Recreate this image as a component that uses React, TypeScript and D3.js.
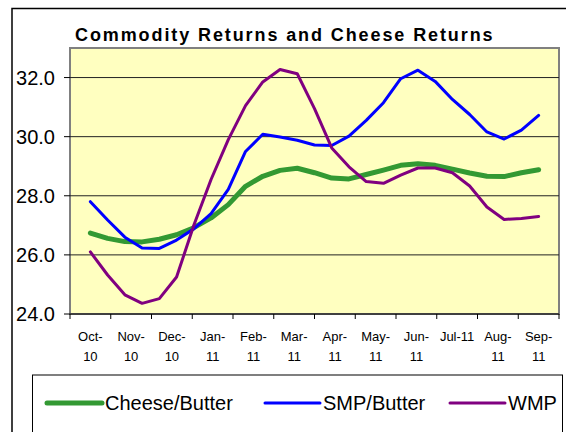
import React, { useEffect, useRef } from "react";
import * as d3 from "d3";

// month categories on the x axis
const months = [
  "Oct-10", "Nov-10", "Dec-10", "Jan-11", "Feb-11", "Mar-11",
  "Apr-11", "May-11", "Jun-11", "Jul-11", "Aug-11", "Sep-11",
];

// roughly bi-weekly readings, mid Oct-10 through mid Sep-11
const cheeseButter = [
  26.74, 26.56, 26.45, 26.44, 26.53, 26.68, 26.92, 27.25, 27.7, 28.32, 28.66,
  28.86, 28.93, 28.78, 28.6, 28.57, 28.72, 28.87, 29.03, 29.08, 29.03, 28.9,
  28.77, 28.66, 28.65, 28.78, 28.88,
];
const smpButter = [
  27.8, 27.18, 26.6, 26.23, 26.22, 26.5, 26.88, 27.4, 28.22, 29.5, 30.08,
  29.99, 29.88, 29.72, 29.7, 30.02, 30.55, 31.15, 31.96, 32.25, 31.87, 31.26,
  30.75, 30.16, 29.92, 30.22, 30.72,
];
const wmp = [
  26.1, 25.32, 24.65, 24.36, 24.52, 25.25, 27.0, 28.55, 29.9, 31.05, 31.85,
  32.27, 32.13, 30.95, 29.62, 28.98, 28.48, 28.42, 28.7, 28.94, 28.94, 28.78,
  28.33, 27.62, 27.2, 27.23, 27.3,
];

const yTicks = [24, 26, 28, 30, 32];

const series = [
  { name: "Cheese/Butter", values: cheeseButter, color: "#339933", width: 5 },
  { name: "SMP/Butter", values: smpButter, color: "#0000ff", width: 3 },
  { name: "WMP", values: wmp, color: "#800080", width: 3 },
];

const App = () => {
  const ref = useRef<SVGSVGElement>(null);

  useEffect(() => {
    const svg = d3.select(ref.current);
    svg.selectAll("*").remove();
    const font = "'Liberation Sans', Arial, sans-serif";

    const left = 70, right = 559, top = 48, bottom = 314;
    const x = d3.scaleLinear().domain([0, months.length]).range([left, right]);
    const y = d3.scaleLinear().domain([24, 33]).range([bottom, top]);

    // outer chart frame (runs off the right / bottom edge)
    svg.append("rect")
      .attr("x", 12).attr("y", 8.5).attr("width", 600).attr("height", 500)
      .attr("fill", "#fff").attr("stroke", "#000").attr("stroke-width", 1.5);

    svg.append("text")
      .attr("x", 75).attr("y", 41)
      .attr("font-family", font).attr("font-weight", "bold")
      .attr("font-size", 18).attr("letter-spacing", 1.9)
      .text("Commodity Returns and Cheese Returns");

    svg.append("rect")
      .attr("x", left).attr("y", top)
      .attr("width", right - left).attr("height", bottom - top)
      .attr("fill", "#ffffc0").attr("stroke", "#808080").attr("stroke-width", 2);

    // gridlines + y labels
    const gy = svg.append("g");
    yTicks.forEach((t) => {
      gy.append("line")
        .attr("x1", left).attr("x2", right)
        .attr("y1", y(t)).attr("y2", y(t))
        .attr("stroke", t === 24 ? "#000" : "#222").attr("stroke-width", 1);
      gy.append("line")
        .attr("x1", left - 6).attr("x2", left)
        .attr("y1", y(t)).attr("y2", y(t))
        .attr("stroke", "#000");
      gy.append("text")
        .attr("x", 55).attr("y", y(t)).attr("dy", "0.35em")
        .attr("text-anchor", "end")
        .attr("font-family", font).attr("font-size", 20)
        .text(t.toFixed(1));
    });

    // x axis: tick at each month boundary, label centred in the month
    const gx = svg.append("g");
    d3.range(months.length + 1).forEach((i) => {
      gx.append("line")
        .attr("x1", x(i)).attr("x2", x(i))
        .attr("y1", bottom).attr("y2", bottom + 5)
        .attr("stroke", "#000");
    });
    months.forEach((m, i) => {
      const t = gx.append("text")
        .attr("x", x(i + 0.5)).attr("y", 341)
        .attr("text-anchor", "middle")
        .attr("font-family", font).attr("font-size", 13)
        .text(m);
      const w = (t.node() as SVGTextElement).getComputedTextLength();
      if (w > 37) {
        const [a, b] = m.split("-");
        t.text(null);
        t.append("tspan").attr("x", x(i + 0.5)).text(a + "-");
        t.append("tspan").attr("x", x(i + 0.5)).attr("dy", 20).text(b);
      }
    });

    // lines run from the middle of Oct-10 to the middle of Sep-11
    const n = cheeseButter.length;
    const pos = d3.scaleLinear().domain([0, n - 1]).range([0.5, months.length - 0.5]);
    const line = d3.line<number>()
      .x((_, i) => x(pos(i)))
      .y((d) => y(d));

    series.forEach((s) => {
      svg.append("path")
        .datum(s.values)
        .attr("fill", "none")
        .attr("stroke", s.color)
        .attr("stroke-width", s.width)
        .attr("stroke-linejoin", "round")
        .attr("stroke-linecap", "round")
        .attr("d", line);
    });

    // legend
    svg.append("rect")
      .attr("x", 32.5).attr("y", 375).attr("width", 530).attr("height", 100)
      .attr("fill", "#fff").attr("stroke", "#000").attr("stroke-width", 1);
    const legendX = [47, 265, 450];
    series.forEach((s, i) => {
      svg.append("line")
        .attr("x1", legendX[i]).attr("x2", legendX[i] + 55)
        .attr("y1", 403).attr("y2", 403)
        .attr("stroke", s.color).attr("stroke-width", s.width)
        .attr("stroke-linecap", "round");
      svg.append("text")
        .attr("x", legendX[i] + 58).attr("y", 410)
        .attr("font-family", font).attr("font-size", 20)
        .text(s.name);
    });
  }, []);

  return (
    <svg
      ref={ref}
      width={566}
      height={432}
      style={{ position: "absolute", left: 0, top: 0, background: "#fff" }}
    />
  );
};

export default App;
